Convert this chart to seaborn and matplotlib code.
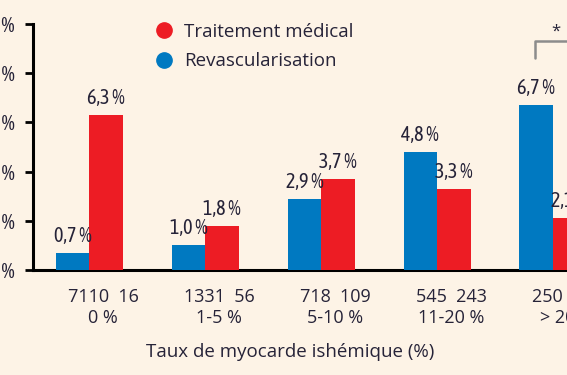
import matplotlib
matplotlib.use("Agg")
import matplotlib.pyplot as plt
from matplotlib.lines import Line2D
import numpy as np
import pandas as pd
import seaborn as sns

# données
groups = ["0 %", "1-5 %", "5-10 %", "11-20 %", "> 20 %"]
n_medical = [7110, 1331, 718, 545, 250]
n_revasc = [16, 56, 109, 243, 339]
revasc = [0.7, 1.0, 2.9, 4.8, 6.7]
medical = [6.3, 1.8, 3.7, 3.3, 2.1]
y_ticks = [0, 2, 4, 6, 8, 10]

RED = "#ED1C24"
BLUE = "#0079C1"
BG = "#FDF3E6"
INK = "#262338"
NARROW = ["Asap Condensed", "DejaVu Sans"]

df = pd.DataFrame({
    "groupe": groups * 2,
    "traitement": ["Revascularisation"] * 5 + ["Traitement médical"] * 5,
    "taux": revasc + medical,
})

sns.set_theme(style="ticks")
plt.rcParams["font.family"] = ["Open Sans", "DejaVu Sans"]

fig = plt.figure(figsize=(5.67, 3.75), dpi=100, facecolor=BG)
ax = fig.add_axes([33 / 567, 105 / 375, 534 / 567, 246 / 375])
ax.set_facecolor(BG)

sns.barplot(data=df, x="groupe", y="taux", hue="traitement",
            hue_order=["Revascularisation", "Traitement médical"],
            palette=[BLUE, RED], width=0.58, saturation=1,
            errorbar=None, legend=False, ax=ax)
for p in ax.patches:
    p.set_zorder(3)
    p.set_edgecolor("none")

for cont, vals in zip(ax.containers, [revasc, medical]):
    ax.bar_label(cont, labels=[f"{v:.1f} %".replace(".", ",") for v in vals],
                 padding=5, fontsize=14.5, fontweight=400, color=INK, family=NARROW,
                 annotation_clip=False)

ax.set_xlim(-0.487, 4.077)
ax.set_ylim(0, 10)
ax.set_yticks(y_ticks, [f"{t} %" for t in y_ticks])
ax.set_xticks(np.arange(len(groups)) + 0.12,
              [f"{a}  {b}\n{g}" for a, b, g in zip(n_medical, n_revasc, groups)])
ax.tick_params(axis="y", length=6, width=2, color="black", pad=7,
               labelsize=15, labelcolor=INK)
for lab in ax.get_yticklabels():
    lab.set_family(NARROW)
    lab.set_fontweight(500)
ax.tick_params(axis="x", length=0, pad=13, labelsize=13, labelcolor=INK)
for lab in ax.get_xticklabels():
    lab.set_linespacing(1.2)

sns.despine(ax=ax)
for s in ["left", "bottom"]:
    ax.spines[s].set_linewidth(2.2)
    ax.spines[s].set_color("black")

ax.set_xlabel("Taux de myocarde ishémique (%)", fontsize=13.5, color=INK)
ax.set_ylabel("")
ax.xaxis.set_label_coords((290 - 33) / 534, -0.333)
ax.xaxis.label.set_va("center")

# crochet de significativité
ax.plot([3.84, 3.84, 4.4], [8.6, 9.3, 9.3], color="#8c8c8c", lw=1.8, clip_on=False)
ax.text(4.02, 9.7, "*", ha="center", va="center", fontsize=12, color=INK)

handles = [
    Line2D([], [], marker="o", ls="", color=RED, markersize=11, label="Traitement médical"),
    Line2D([], [], marker="o", ls="", color=BLUE, markersize=11, label="Revascularisation"),
]
fig.legend(handles=handles, loc="upper left", bbox_to_anchor=(128 / 567, 1 - 6 / 375),
           frameon=False, fontsize=13.5, handletextpad=0.1, labelspacing=0.6,
           labelcolor=INK)

fig.savefig("out.png", dpi=100, facecolor=BG)
